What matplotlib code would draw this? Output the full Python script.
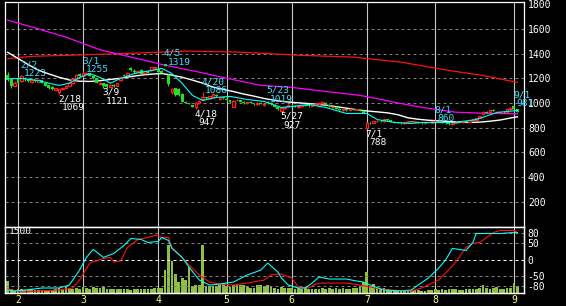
import pandas as pd
import matplotlib
matplotlib.use('Agg')
import matplotlib.pyplot as plt

plt.rcParams['font.family'] = ['DejaVu Sans Mono']

# торговые дни (2011, без японских праздников)
holidays = ['2011-02-11', '2011-03-21', '2011-04-29', '2011-05-03',
            '2011-05-04', '2011-05-05', '2011-07-18']
days = pd.bdate_range('2011-01-27', '2011-09-02')
days = days[~days.isin(pd.to_datetime(holidays))]

opens = [1230, 1190, 1140,
         1205, 1175, 1205, 1195, 1170, 1185, 1172, 1182, 1160, 1145, 1130, 1105, 1085, 1110, 1125, 1140, 1160, 1190, 1235,
         1215, 1235, 1240, 1222, 1200, 1150, 1160, 1150, 1130, 1148, 1140, 1185, 1230, 1225, 1285, 1262, 1250, 1270, 1240, 1262, 1265, 1280,
         1275, 1262, 1318, 1225, 1090, 1120, 1115, 1075, 1010, 995, 980, 965, 1000, 1030, 1045, 1040, 1050, 1065, 1030, 1045,
         1035, 1020, 970, 1020, 1020, 1010, 1000, 1010, 995, 990, 1000, 985, 1010, 1000, 985, 970, 935, 958, 975,
         985, 975, 968, 972, 985, 978, 975, 990, 995, 998, 1000, 985, 965, 968, 955, 942, 948, 945, 950, 945, 948, 935,
         800, 840, 838, 850, 855, 850, 868, 860, 848, 842, 838, 835, 842, 850, 845, 848, 840, 835, 842, 838,
         850, 855, 848, 840, 835, 830, 838, 848, 842, 852, 848, 862, 866, 880, 910, 928, 925, 945, 925, 918, 930, 925, 950,
         975, 950]
highs = [1250, 1195, 1175,
         1210, 1223, 1210, 1200, 1190, 1190, 1190, 1186, 1165, 1148, 1135, 1122, 1115, 1130, 1145, 1165, 1195, 1235, 1240,
         1255, 1250, 1245, 1228, 1205, 1170, 1165, 1155, 1150, 1150, 1165, 1215, 1235, 1250, 1292, 1275, 1262, 1275, 1262, 1268, 1292, 1295,
         1280, 1270, 1319, 1235, 1120, 1125, 1125, 1080, 1015, 1000, 985, 1005, 1025, 1086, 1050, 1060, 1078, 1070, 1050, 1050,
         1040, 1025, 1020, 1030, 1025, 1015, 1010, 1015, 1002, 1005, 1008, 995, 1019, 1005, 990, 975, 962, 972, 990,
         995, 980, 975, 985, 990, 982, 990, 1000, 1008, 1010, 1005, 990, 975, 972, 960, 950, 952, 958, 955, 955, 952, 940,
         842, 845, 852, 860, 858, 875, 872, 865, 852, 848, 842, 845, 852, 856, 850, 852, 845, 845, 848, 852,
         860, 858, 852, 845, 840, 842, 850, 852, 855, 856, 865, 870, 880, 895, 935, 935, 945, 950, 935, 930, 935, 955, 965,
         981, 955]
lows = [1180, 1125, 1135,
        1160, 1170, 1180, 1170, 1160, 1170, 1168, 1158, 1135, 1115, 1105, 1100, 1069, 1105, 1120, 1135, 1155, 1185, 1210,
        1210, 1225, 1215, 1195, 1160, 1145, 1121, 1125, 1128, 1130, 1138, 1180, 1215, 1220, 1262, 1245, 1240, 1232, 1235, 1240, 1262, 1270,
        1245, 1240, 1298, 1140, 1075, 1060, 1060, 1005, 1000, 990, 965, 947, 995, 1025, 1035, 1035, 1045, 1050, 1025, 1035,
        1015, 1000, 965, 1015, 1005, 995, 995, 998, 985, 985, 990, 978, 995, 985, 965, 945, 927, 952, 970,
        975, 965, 960, 968, 975, 970, 972, 985, 990, 995, 985, 968, 955, 950, 940, 935, 938, 942, 940, 940, 935, 915,
        788, 830, 835, 845, 848, 848, 855, 845, 838, 835, 830, 832, 840, 842, 840, 838, 832, 830, 835, 835,
        845, 845, 838, 832, 825, 825, 835, 840, 840, 845, 845, 855, 860, 875, 905, 918, 920, 935, 918, 915, 922, 922, 945,
        950, 925]
closes = [1185, 1135, 1165,
          1165, 1215, 1190, 1180, 1182, 1175, 1185, 1162, 1140, 1125, 1112, 1118, 1110, 1125, 1140, 1160, 1190, 1230, 1215,
          1240, 1245, 1220, 1200, 1165, 1162, 1140, 1132, 1145, 1135, 1160, 1210, 1220, 1245, 1268, 1250, 1255, 1238, 1258, 1245, 1288, 1292,
          1250, 1245, 1302, 1150, 1115, 1065, 1062, 1010, 1003, 992, 970, 1000, 1018, 1050, 1040, 1055, 1072, 1055, 1045, 1040,
          1020, 1005, 1015, 1025, 1010, 1000, 1008, 1000, 990, 1002, 995, 990, 1000, 988, 970, 950, 958, 968, 985,
          980, 970, 972, 982, 978, 975, 988, 995, 1002, 1005, 988, 972, 970, 955, 945, 948, 942, 955, 942, 950, 938, 920,
          835, 835, 850, 855, 852, 870, 858, 848, 842, 838, 835, 842, 850, 845, 848, 840, 835, 842, 838, 850,
          855, 848, 840, 835, 830, 840, 848, 842, 852, 848, 862, 866, 878, 892, 930, 922, 940, 938, 930, 926, 925, 950, 960,
          955, 930]
volume = [262, 100, 70,
          90, 80, 70, 60, 85, 70, 60, 75, 70, 60, 65, 80, 110, 90, 130, 110, 90, 120, 100,
          135, 110, 95, 130, 110, 105, 125, 95, 100, 90, 85, 80, 95, 90, 75, 80, 85, 95, 90, 95, 85, 110,
          110, 120, 510, 1090, 720, 425, 255, 340, 290, 590, 155, 180, 180, 1075, 160, 155, 160, 165, 175, 195,
          150, 125, 180, 175, 170, 175, 140, 110, 120, 170, 180, 160, 180, 165, 120, 100, 135, 115, 105,
          110, 95, 120, 100, 130, 90, 100, 85, 100, 110, 90, 105, 95, 110, 100, 120, 85, 95, 105, 110, 160, 245,
          470, 150, 200, 110, 90, 120, 80, 70, 75, 65, 60, 55, 60, 55, 70, 60, 55, 55, 65, 70,
          90, 75, 80, 70, 85, 100, 80, 70, 75, 90, 80, 85, 100, 110, 170, 120, 90, 110, 130, 100, 95, 110, 120,
          225, 150]

# скользящие средние (точки: номер дня, значение)
cyan_idx = [0, 4, 9, 12, 15, 18, 21, 24, 27, 30, 33, 37, 42, 45, 48, 51, 54, 57, 61, 65, 70, 75, 80, 83,
            88, 93, 99, 105, 108, 113, 118, 121, 131, 137, 143, 149]
cyan_val = [1195, 1198, 1182, 1160, 1142, 1160, 1206, 1238, 1206, 1160, 1198, 1238, 1263, 1280, 1239, 1158,
            1061, 1020, 1045, 1053, 1028, 1012, 963, 971, 988, 963, 915, 915, 866, 842, 834, 842, 842, 866, 923, 939]
white_idx = list(range(0, 148, 3)) + [149]
white_val = [1410, 1360, 1310, 1265, 1235, 1208, 1186, 1176, 1174, 1180, 1190, 1200, 1213, 1225, 1233,
             1238, 1225, 1208, 1185, 1160, 1128, 1110, 1092, 1072, 1055, 1036, 1022, 1010, 1003, 997,
             990, 982, 970, 958, 945, 935, 928, 920, 905, 880, 868, 860, 855, 850, 845, 842, 845, 852,
             862, 878, 888]
magenta_idx = [0, 7, 17, 27, 37, 46, 55, 64, 74, 83, 93, 103, 109, 113, 121, 131, 141, 149]
magenta_val = [1670, 1615, 1533, 1430, 1365, 1305, 1255, 1200, 1142, 1126, 1093, 1061, 1030, 1005, 965, 925, 915, 912]
red_idx = [0, 7, 19, 37, 46, 52, 67, 77, 86, 101, 115, 129, 139, 149]
red_val = [1358, 1377, 1387, 1403, 1412, 1420, 1412, 1398, 1385, 1371, 1330, 1263, 1222, 1166]

# RCI
rci_c_idx = [0, 2, 6, 10, 15, 18, 21, 23, 25, 28, 31, 34, 36, 39, 41, 44, 45, 47, 48, 51, 53, 56, 59, 62,
             66, 70, 74, 76, 79, 80, 82, 85, 87, 89, 91, 94, 99, 102, 104, 106, 110, 115, 118, 120, 123,
             126, 128, 130, 132, 134, 136, 137, 140, 144, 148, 149]
rci_c_val = [-91, -94, -90, -85, -85, -76, -31, 7, 31, 7, 19, 43, 64, 61, 52, 55, 67, 58, 34, 7, -22, -61,
             -76, -73, -67, -46, -31, -10, -37, -55, -76, -85, -85, -70, -52, -58, -58, -64, -67, -76,
             -91, -94, -91, -76, -55, -25, -1, 34, 31, 28, 52, 79, 79, 79, 82, 82]
rci_r_idx = [0, 4, 9, 15, 19, 21, 24, 28, 30, 31, 33, 35, 38, 41, 43, 44, 45, 47, 48, 51, 53, 56, 59, 62,
             66, 70, 75, 77, 79, 80, 83, 85, 88, 90, 92, 99, 103, 106, 109, 112, 118, 121, 126, 128, 131,
             134, 136, 138, 140, 142, 144, 148, 149]
rci_r_val = [-88, -97, -94, -91, -85, -61, -10, 4, 7, -7, -4, 37, 61, 67, 73, 73, 67, 67, 37, 7, -16, -46,
             -67, -73, -76, -70, -61, -46, -43, -43, -55, -82, -85, -73, -70, -70, -76, -82, -88, -91,
             -94, -85, -61, -40, -7, 37, 49, 52, 67, 82, 88, 88, 82]

hi_dates = ['2/2', '3/1', '4/5', '4/20', '5/23', '8/1', '9/1']
hi_vals = [1223, 1255, 1319, 1086, 1019, 860, 981]
lo_dates = ['2/18', '3/9', '4/18', '5/27', '7/1']
lo_vals = [1069, 1121, 947, 927, 788]

rci_ticks = [80, 50, 0, -50, -80]

RED = '#ff2020'
GREEN = '#20e020'
CYAN = '#40e0ff'
GRID = '#808080'
VGRID = '#c8c8c8'
PX = 0.72  # пиксель в пунктах

fig = plt.figure(figsize=(5.66, 3.06), dpi=100, facecolor='black')
ax = fig.add_axes([5 / 566, 79.5 / 306, 519 / 566, 224.5 / 306], facecolor='black')
ax_v = fig.add_axes([5 / 566, 13 / 306, 519 / 566, 66.5 / 306], facecolor='black')
ax_r = ax_v.twinx()

x = list(range(len(days)))
xlim = (-0.8, 150.95)

month_pos = []
for m in range(2, 10):
    month_pos.append(int((days.month < m).sum()))

# --- цена ---
for y in range(200, 1700, 200):
    ax.axhline(y, color=GRID, lw=0.72, ls=(0, (3, 3)), zorder=0.5)
for mp in month_pos:
    ax.axvline(mp, color=VGRID, lw=0.8, zorder=0.6)
    ax_v.axvline(mp, color=VGRID, lw=0.8, zorder=0.6)

up = [c >= o for o, c in zip(opens, closes)]
wick_col = [RED if u else GREEN for u in up]
ax.vlines(x, lows, highs, colors=wick_col, lw=0.9, zorder=3)
up_x = [i for i in x if up[i]]
dn_x = [i for i in x if not up[i]]
ax.bar(up_x, [max(closes[i] - opens[i], 5) for i in up_x], bottom=[opens[i] for i in up_x],
       width=0.72, facecolor='black', edgecolor=RED, lw=0.9, zorder=4)
ax.bar(dn_x, [max(opens[i] - closes[i], 5) for i in dn_x], bottom=[closes[i] for i in dn_x],
       width=0.85, color=GREEN, lw=0, zorder=4)

ax.plot(red_idx, red_val, color='#ff1010', lw=0.9, zorder=2)
ax.plot(magenta_idx, magenta_val, color='#ff00ff', lw=0.9, zorder=2)
ax.plot(white_idx, white_val, color='white', lw=1.0, zorder=2)
ax.plot(cyan_idx, cyan_val, color='#00ffff', lw=0.8, zorder=5)

def day_index(s):
    return int(days.get_loc(pd.Timestamp('2011-' + s.replace('/', '-'))))

for d, v in zip(hi_dates, hi_vals):
    i = day_index(d)
    ax.annotate(d, (i, v), xytext=(-1 * PX, 8 * PX), textcoords='offset points',
                color=CYAN, fontsize=6.8, ha='left', va='baseline', zorder=6)
    ax.annotate(str(v), (i, v), xytext=(2.5 * PX, -1 * PX), textcoords='offset points',
                color=CYAN, fontsize=6.8, ha='left', va='baseline', zorder=6)
for d, v in zip(lo_dates, lo_vals):
    i = day_index(d)
    ax.annotate(d, (i, v), xytext=(-1 * PX, -7 * PX), textcoords='offset points',
                color='white', fontsize=6.8, ha='left', va='baseline', zorder=6)
    ax.annotate(str(v), (i, v), xytext=(2.5 * PX, -16 * PX), textcoords='offset points',
                color='white', fontsize=6.8, ha='left', va='baseline', zorder=6)

ax.set_xlim(*xlim)
ax.set_ylim(0, 1817)
ax.set_xticks([])
ax.yaxis.tick_right()
ax.set_yticks(range(200, 1801, 200))
ax.tick_params(axis='y', length=0, pad=2.8, colors='white', labelsize=7)

# --- объем и RCI ---
ax_v.bar(x, volume, width=0.8, color='#90c040', zorder=2)
ax_v.set_ylim(0, 1500)
ax_v.set_xlim(*xlim)
ax_v.set_yticks([])
ax_v.set_xticks(month_pos)
ax_v.set_xticklabels([str(m) for m in range(2, 10)])
ax_v.tick_params(axis='x', length=0, pad=1.5, colors='#ffff80', labelsize=7)

for t in rci_ticks:
    ax_r.axhline(t, color='white' if t == 0 else GRID, lw=0.72, ls=(0, (3, 3)), zorder=1)
ax_r.plot(rci_r_idx, rci_r_val, color='#ff1010', lw=0.8, zorder=3)
ax_r.plot(rci_c_idx, rci_c_val, color='#00ffff', lw=0.8, zorder=3)
ax_r.set_ylim(-100, 100)
ax_r.set_yticks(rci_ticks)
ax_r.set_yticklabels([str(t) for t in rci_ticks])
ax_r.tick_params(axis='y', length=0, pad=2.2, colors='white', labelsize=7)
ax_r.text(0.008, 0.985, '1500', transform=ax_r.transAxes, color='white', fontsize=6.8,
          ha='left', va='top')

for a in (ax, ax_v, ax_r):
    for s in a.spines.values():
        s.set_color('white')
        s.set_linewidth(0.9)

fig.savefig('out.png', dpi=100, facecolor='black')
